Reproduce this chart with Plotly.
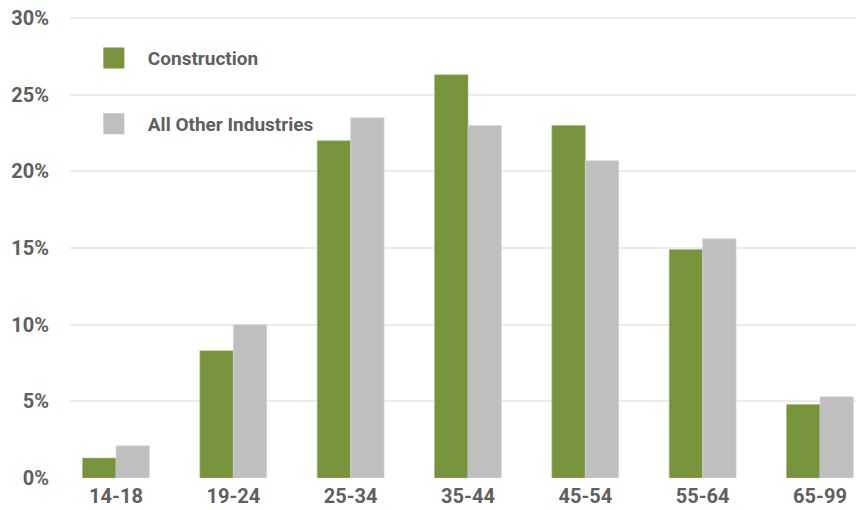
import plotly.graph_objects as go

categories = ["14-18", "19-24", "25-34", "35-44", "45-54", "55-64", "65-99"]
construction = [1.3, 8.3, 22.0, 26.3, 23.0, 14.9, 4.8]
other_industries = [2.1, 10.0, 23.5, 23.0, 20.7, 15.6, 5.3]
y_ticks = [0, 5, 10, 15, 20, 25, 30]
y_tick_labels = ["0%", "5%", "10%", "15%", "20%", "25%", "30%"]

GREEN = "#77933c"
GRAY = "#bfbfbf"
TEXT = "#5f5f5f"
FONT = "Roboto, Arial, sans-serif"

fig = go.Figure()
fig.add_trace(go.Bar(x=categories, y=construction, name="Construction",
                     marker=dict(color=GREEN, line=dict(color="#a4b87a", width=0.6)),
                     showlegend=False))
fig.add_trace(go.Bar(x=categories, y=other_industries, name="All Other Industries",
                     marker=dict(color=GRAY, line=dict(color="#d6d6d6", width=0.6)),
                     showlegend=False))
# legend entries
fig.add_trace(go.Scatter(x=[None], y=[None], mode="markers", name="Construction",
                         legendgroup="a",
                         marker=dict(symbol="square", size=24, color=GREEN,
                                     line=dict(color=GREEN, width=10))))
fig.add_trace(go.Scatter(x=[None], y=[None], mode="markers", name="All Other Industries",
                         legendgroup="b",
                         marker=dict(symbol="square", size=24, color=GRAY,
                                     line=dict(color=GRAY, width=10))))

fig.update_layout(
    width=856, height=502,
    margin=dict(l=62, r=0, t=7, b=32),
    paper_bgcolor="white", plot_bgcolor="white",
    barmode="group", bargap=0.43, bargroupgap=0,
    font=dict(family=FONT, size=19, color=TEXT),
    legend=dict(x=0.0124, y=0.948, xanchor="left", yanchor="top",
                traceorder="grouped", tracegroupgap=38, itemsizing="trace",
                itemwidth=58,
                font=dict(family=FONT, size=19, color=TEXT, weight="bold"),
                bgcolor="rgba(0,0,0,0)"),
    xaxis=dict(type="category", range=[-0.392, 6.375], showgrid=False,
               showline=False, zeroline=False, ticks="", automargin=False,
               ticklabelstandoff=4,
               tickfont=dict(family=FONT, size=20, color=TEXT, weight="bold")),
    yaxis=dict(range=[0, 30.2], tickvals=y_ticks, ticktext=y_tick_labels,
               showgrid=True, gridcolor="#ebebeb", gridwidth=1.5,
               zeroline=False, showline=False, ticks="", automargin=False,
               ticklabelstandoff=20, ticklabeloverflow="allow",
               tickfont=dict(family=FONT, size=20, color=TEXT, weight="bold")),
)

fig.write_html("out.html")
